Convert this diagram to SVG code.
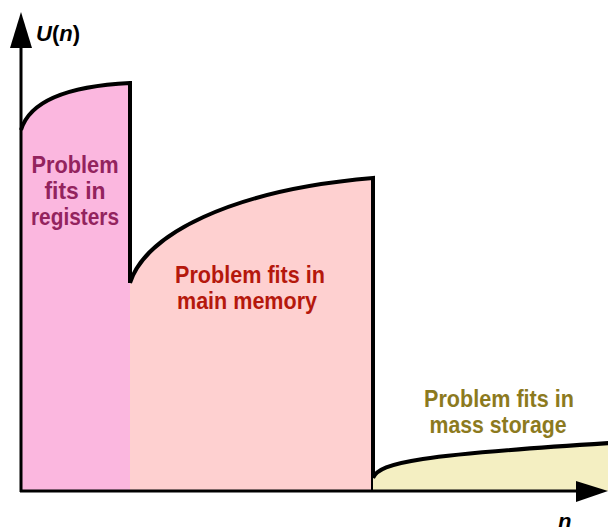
<svg xmlns="http://www.w3.org/2000/svg" width="608" height="527" viewBox="0 0 608 527">
<style>
.curve{fill:none;stroke:#000;stroke-width:4;stroke-linejoin:miter}
.axis{stroke:#000;stroke-width:3;fill:none}
.lbl{font-family:"Liberation Sans",Arial,sans-serif;font-weight:bold;font-size:24px;text-anchor:middle}
.ax{font-family:"Liberation Sans",Arial,sans-serif;font-weight:bold;font-size:22px}
</style>
<rect width="608" height="527" fill="#fff"/>
<g id="registers">
<path d="M21,130 C30,100 70,86 130,83 L130,491 L21,491 Z" fill="#fbb7df"/>
<path class="curve" d="M21,130 C30,100 70,86 130,83 L130,283"/>
<text class="lbl" fill="#93235e" x="75" y="173" textLength="87" lengthAdjust="spacingAndGlyphs">Problem</text>
<text class="lbl" fill="#93235e" x="75" y="199" textLength="61" lengthAdjust="spacingAndGlyphs">fits in</text>
<text class="lbl" fill="#93235e" x="75" y="225" textLength="88" lengthAdjust="spacingAndGlyphs">registers</text>
</g>
<g id="memory">
<path d="M130,283 C145,235 230,190 373,178 L373,491 L130,491 Z" fill="#fed0d0"/>
<path class="curve" d="M130,283 C145,235 230,190 373,178 L373,491"/>
<text class="lbl" fill="#b5180c" x="250" y="283" textLength="150" lengthAdjust="spacingAndGlyphs">Problem fits in</text>
<text x="177" y="309" class="lbl" fill="#b5180c" style="text-anchor:start" textLength="140" lengthAdjust="spacingAndGlyphs">main memory</text>
</g>
<g id="storage">
<path d="M373,478 C380,462 420,455 608,443 L608,491 L373,491 Z" fill="#f4efc2"/>
<path class="curve" d="M373,478 C380,462 420,455 610,443"/>
<text class="lbl" fill="#8c7a1e" x="499" y="407" textLength="150" lengthAdjust="spacingAndGlyphs">Problem fits in</text>
<text class="lbl" fill="#8c7a1e" x="498" y="433" textLength="137" lengthAdjust="spacingAndGlyphs">mass storage</text>
</g>
<g id="axes">
<path class="axis" d="M21,492 L21,44"/>
<path class="axis" d="M20,491 L580,491"/>
<polygon points="21,12 10,48 32,48" fill="#000"/>
<polygon points="608,491 576,481 576,502" fill="#000"/>
</g>
<g id="axis-labels">
<text class="ax" x="36" y="41"><tspan font-style="italic">U</tspan>(<tspan font-style="italic">n</tspan>)</text>
<text class="ax" x="558" y="529" font-style="italic">n</text>
</g>
</svg>
